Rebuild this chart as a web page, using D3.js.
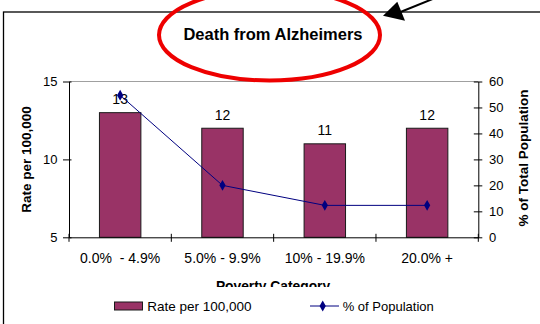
<!DOCTYPE html>
<html><head><meta charset="utf-8">
<script src="https://cdn.jsdelivr.net/npm/d3@7"></script>
<style>
html,body{margin:0;padding:0;background:#fff;}
svg{display:block;font-family:"Liberation Sans",Arial,sans-serif;}
</style></head>
<body>
<svg id="chart" width="540" height="324"></svg>
<script>
const title = "Death from Alzheimers";
const categories = ["0.0%  - 4.9%", "5.0% - 9.9%", "10% - 19.9%", "20.0% +"];
const rateValues = [13, 12, 11, 12];
const popValues = [54.7, 20.0, 12.3, 12.3];
const leftTicks = [5, 10, 15];
const rightTicks = [0, 10, 20, 30, 40, 50, 60];
const xTitle = "Poverty Category";
const yLeftTitle = "Rate per 100,000";
const yRightTitle = "% of Total Population";
const legendLabels = ["Rate per 100,000", "% of Population"];

const svg = d3.select("#chart");
const L = 69, R = 478.3, T = 81.5, B = 237.3;

const x = d3.scaleBand().domain(categories).range([L, R]).padding(0);
const yL = d3.scaleLinear().domain([5, 15]).range([B, T]);
const yR = d3.scaleLinear().domain([0, 60]).range([B, T]);

const barColor = "#993366", lineColor = "#000080";

// chart frame
svg.append("rect").attr("x", 3.5).attr("y", 12).attr("width", 600).attr("height", 400)
  .attr("fill", "none").attr("stroke", "#000").attr("stroke-width", 1.3);

// title
svg.append("text").attr("x", 273).attr("y", 39.5).attr("text-anchor", "middle")
  .attr("font-size", 16.5).attr("font-weight", "bold").text(title);

// top gridline
svg.append("line").attr("x1", L).attr("x2", R).attr("y1", yL(15)).attr("y2", yL(15))
  .attr("stroke", "#a0a0a0").attr("stroke-width", 1);

// bars
const bw = x.bandwidth() * 0.405;
svg.append("g").selectAll("rect").data(rateValues).join("rect")
  .attr("x", (d, i) => x(categories[i]) + x.bandwidth() / 2 - bw / 2)
  .attr("width", bw)
  .attr("y", d => yL(d))
  .attr("height", d => yL(5) - yL(d))
  .attr("fill", barColor).attr("stroke", "#1a1a1a").attr("stroke-width", 1);

// data labels
svg.append("g").selectAll("text").data(rateValues).join("text")
  .attr("x", (d, i) => x(categories[i]) + x.bandwidth() / 2)
  .attr("y", d => yL(d) - 8.5)
  .attr("text-anchor", "middle").attr("font-size", 14).text(d => d);

// left axis
const gL = svg.append("g").attr("transform", `translate(${L},0)`)
  .call(d3.axisLeft(yL).tickValues(leftTicks).tickSizeInner(6).tickSizeOuter(0).tickPadding(6));
gL.select(".domain").attr("stroke", "#000");
gL.selectAll(".tick line").attr("x1", 2.5).attr("stroke", "#000");
gL.selectAll(".tick text").attr("font-size", 13).attr("font-family", "Liberation Sans, Arial").attr("fill", "#000").attr("x", -11.5);

// right axis
const gR = svg.append("g").attr("transform", `translate(${R},0)`)
  .call(d3.axisRight(yR).tickValues(rightTicks).tickSizeInner(4).tickSizeOuter(0).tickPadding(6.7));
gR.select(".domain").attr("stroke", "#000");
gR.selectAll(".tick line").attr("x1", -4.5).attr("stroke", "#000");
gR.selectAll(".tick text").attr("font-size", 13).attr("font-family", "Liberation Sans, Arial").attr("fill", "#000");

// bottom axis
const gB = svg.append("g").attr("transform", `translate(0,${B})`)
  .call(d3.axisBottom(x).tickSize(0).tickPadding(16));
gB.select(".domain").attr("stroke", "#000");
gB.selectAll(".tick text").attr("font-size", 14).attr("font-family", "Liberation Sans, Arial")
  .attr("fill", "#000").style("white-space", "pre");
const bounds = categories.map(c => x(c)).concat([x.range()[1]]);
gB.append("g").selectAll("line").data(bounds).join("line")
  .attr("x1", d => d).attr("x2", d => d).attr("y1", -3.5).attr("y2", 4.5)
  .attr("stroke", "#000");

// line series
const lineGen = d3.line()
  .x((d, i) => x(categories[i]) + x.bandwidth() / 2)
  .y(d => yR(d));
svg.append("path").datum(popValues).attr("d", lineGen)
  .attr("fill", "none").attr("stroke", lineColor).attr("stroke-width", 1);
const diamond = d3.symbol().type(d3.symbolDiamond).size(34);
svg.append("g").selectAll("path").data(popValues).join("path")
  .attr("transform", (d, i) => `translate(${x(categories[i]) + x.bandwidth() / 2},${yR(d)})`)
  .attr("d", diamond).attr("fill", lineColor);

// axis titles
svg.append("text").attr("transform", "translate(30.5,159.5) rotate(-90)")
  .attr("text-anchor", "middle").attr("font-size", 13.5).attr("font-weight", "bold").text(yLeftTitle);
svg.append("text").attr("transform", "translate(528,158) rotate(-90)")
  .attr("text-anchor", "middle").attr("font-size", 13.5).attr("font-weight", "bold").text(yRightTitle);
svg.append("text").attr("x", 273).attr("y", 291).attr("text-anchor", "middle")
  .attr("font-size", 13.8).attr("font-weight", "bold").text(xTitle);

// legend (white box clipping the x title)
svg.append("rect").attr("x", 100).attr("y", 287).attr("width", 360).attr("height", 40).attr("fill", "#fff");
const lg = svg.append("g");
lg.append("rect").attr("x", 114.5).attr("y", 302).attr("width", 28).attr("height", 8)
  .attr("fill", barColor).attr("stroke", "#1a1a1a").attr("stroke-width", 1);
lg.append("text").attr("x", 147.3).attr("y", 311).attr("font-size", 13.5).text(legendLabels[0]);
lg.append("line").attr("x1", 310).attr("x2", 339).attr("y1", 306).attr("y2", 306)
  .attr("stroke", lineColor).attr("stroke-width", 1);
lg.append("path").attr("transform", "translate(322.7,306)").attr("d", diamond).attr("fill", lineColor);
lg.append("text").attr("x", 342.7).attr("y", 311).attr("font-size", 13).text(legendLabels[1]);

// annotation: red ellipse and arrow
svg.append("ellipse").attr("cx", 269.5).attr("cy", 35).attr("rx", 110.5).attr("ry", 45.5)
  .attr("fill", "none").attr("stroke", "#ee0000").attr("stroke-width", 4);
svg.append("line").attr("x1", 398).attr("y1", 13).attr("x2", 445).attr("y2", -6)
  .attr("stroke", "#000").attr("stroke-width", 2);
svg.append("path").attr("d", "M383,15.7 L397.3,1.7 L405,20.7 Z").attr("fill", "#000");
</script>
</body></html>
